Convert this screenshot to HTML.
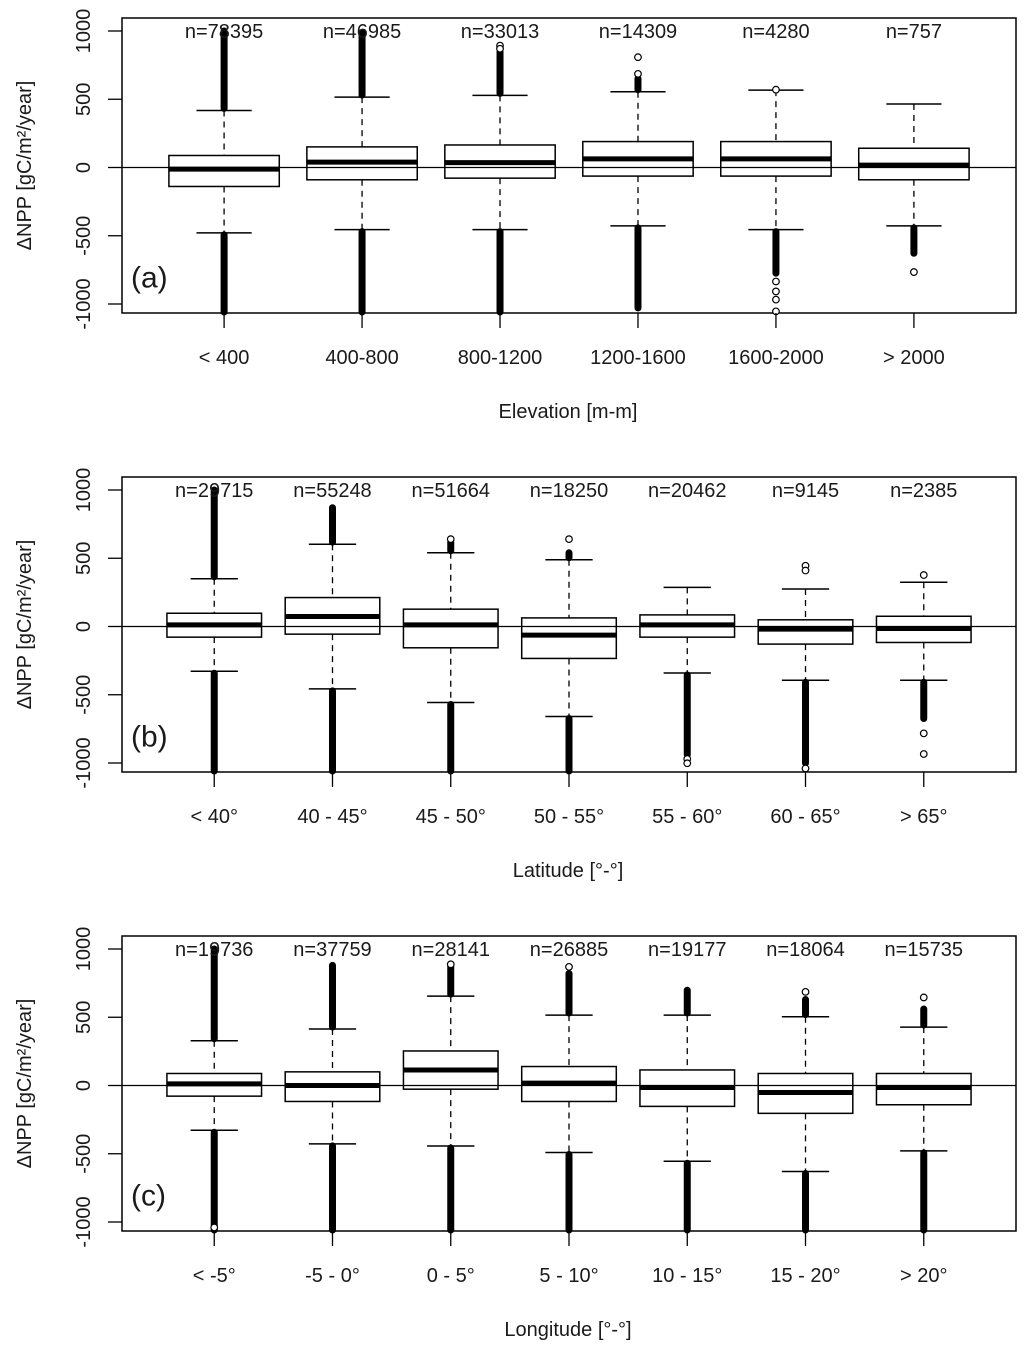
<!DOCTYPE html>
<html><head><meta charset="utf-8"><style>
html,body{margin:0;padding:0;background:#fff;}
svg text{font-family:"Liberation Sans",Arial,sans-serif;fill:#1a1a1a;}
</style></head><body>
<svg id="chart" width="1024" height="1351" viewBox="0 0 1024 1351" xmlns="http://www.w3.org/2000/svg"></svg>
<script>
// Panel (a) elevation
const catsA = ["< 400","400-800","800-1200","1200-1600","1600-2000","> 2000"];
const nA = ["n=78395","n=46985","n=33013","n=14309","n=4280","n=757"];
const hiWA = [418,516,528,555,567,465];
const q3A = [88,151,165,190,190,141];
const medA = [-12,39,36,63,63,17];
const q1A = [-139,-90,-78,-63,-63,-90];
const loWA = [-479,-455,-455,-428,-455,-428];
const outHiA = [1000,990,850,650,567,465];
const outLoA = [-1060,-1060,-1060,-1029,-774,-628];
const circA = [[],[],[893,870],[686,808],[570],[-766]];
const circLoA = [[],[],[],[],[-835,-908,-968,-1054],[]];
// Panel (b) latitude
const catsB = ["< 40°","40 - 45°","45 - 50°","50 - 55°","55 - 60°","60 - 65°","> 65°"];
const nB = ["n=29715","n=55248","n=51664","n=18250","n=20462","n=9145","n=2385"];
const hiWB = [350,603,540,489,287,275,324];
const q3B = [97,212,127,63,85,49,75];
const medB = [12,73,12,-63,12,-19,-15];
const q1B = [-78,-56,-156,-234,-78,-129,-117];
const loWB = [-328,-457,-557,-659,-341,-394,-394];
const outHiB = [1000,870,620,540,287,275,324];
const outLoB = [-1060,-1060,-1060,-1060,-940,-1000,-674];
const circB = [[],[],[640],[640],[],[445,410],[377]];
const circLoB = [[],[],[],[],[-970,-1002],[-1040],[-783,-934]];
// Panel (c) longitude
const catsC = ["< -5°","-5 - 0°","0 - 5°","5 - 10°","10 - 15°","15 - 20°","> 20°"];
const nC = ["n=19736","n=37759","n=28141","n=26885","n=19177","n=18064","n=15735"];
const hiWC = [328,414,655,516,516,504,428];
const q3C = [88,100,253,139,114,88,88];
const medC = [12,0,114,17,-15,-51,-15];
const q1C = [-78,-117,-27,-117,-153,-204,-141];
const loWC = [-328,-428,-443,-491,-555,-630,-479];
const outHiC = [1000,880,880,820,698,630,560];
const outLoC = [-1060,-1060,-1060,-1060,-1060,-1060,-1060];
const circC = [[],[],[888],[869],[],[686],[645]];
const circLoC = [[-1040],[],[],[],[],[],[]];
const yTicks = [-1000,-500,0,500,1000];

const svg = document.getElementById('chart');
const NS = 'http://www.w3.org/2000/svg';
function mk(tag, attrs, parent){
  const e = document.createElementNS(NS, tag);
  for (const k in attrs) e.setAttribute(k, attrs[k]);
  (parent||svg).appendChild(e); return e;
}
function panel(cfg){
  const g = mk('g', {});
  
  
  const L=122, R=1016, top=cfg.top, bot=cfg.top+295, zero=cfg.top+149.5, k=0.1365;
  const yS = v => zero - v*k;
  const n = cfg.cats.length;
  const u = (R-L)/(n*1.08);
  const xS = i => L + (0.04*n + i + 0.5)*u;
  const bw = u*0.8, cw = bw/2;
  const fr = mk('rect',{x:L,y:top,width:R-L,height:bot-top,fill:'none',stroke:'#000','stroke-width':1.5},g);
   
  const zl = mk('line',{x1:L,x2:R,y1:yS(0),y2:yS(0),stroke:'#000','stroke-width':1.3},g);
   
  yTicks.forEach(t=>{
    const y=yS(t);
    const tl = mk('line',{x1:108,x2:L,y1:y,y2:y,stroke:'#000','stroke-width':1.3},g);
     
    const tx = mk('text',{x:0,y:0,'font-size':20,'text-anchor':'middle',transform:`translate(90,${y}) rotate(-90)`},g);
    tx.textContent = t;
     
  });
  const yl = mk('text',{x:0,y:0,'font-size':20,'text-anchor':'middle',transform:`translate(31,${zero-2}) rotate(-90)`},g);
  yl.textContent = 'ΔNPP [gC/m²/year]';
   
  for(let i=0;i<n;i++){
    const x=xS(i);
    const bg = mk('g',{},g);
     
    mk('line',{x1:x,x2:x,y1:yS(cfg.hiW[i]),y2:yS(cfg.q3[i]),stroke:'#000','stroke-width':1.3,'stroke-dasharray':'6,5'},bg);
    mk('line',{x1:x,x2:x,y1:yS(cfg.q1[i]),y2:yS(cfg.loW[i]),stroke:'#000','stroke-width':1.3,'stroke-dasharray':'6,5'},bg);
    mk('line',{x1:x-cw/2,x2:x+cw/2,y1:yS(cfg.hiW[i]),y2:yS(cfg.hiW[i]),stroke:'#000','stroke-width':1.5},bg);
    mk('line',{x1:x-cw/2,x2:x+cw/2,y1:yS(cfg.loW[i]),y2:yS(cfg.loW[i]),stroke:'#000','stroke-width':1.5},bg);
    const clip = v => Math.max(top+1, Math.min(bot-1, v));
    if(cfg.outHi[i] > cfg.hiW[i]){
      const o=mk('line',{x1:x,x2:x,y1:yS(cfg.hiW[i])-2,y2:clip(yS(cfg.outHi[i])),stroke:'#000','stroke-width':7,'stroke-linecap':'round'},bg);
       
    }
    if(cfg.outLo[i] < cfg.loW[i]){
      const o=mk('line',{x1:x,x2:x,y1:yS(cfg.loW[i])+2,y2:clip(yS(cfg.outLo[i])),stroke:'#000','stroke-width':7,'stroke-linecap':'round'},bg);
       
    }
    cfg.circ[i].concat(cfg.circLo[i]).forEach(v=>{
      const c=mk('circle',{cx:x,cy:yS(v),r:3.3,fill:'#fff',stroke:'#000','stroke-width':1.2},bg);
       
    });
    const r=mk('rect',{x:x-bw/2,y:yS(cfg.q3[i]),width:bw,height:yS(cfg.q1[i])-yS(cfg.q3[i]),fill:'#fff',stroke:'#000','stroke-width':1.5},bg);
     
    const m=mk('line',{x1:x-bw/2,x2:x+bw/2,y1:yS(cfg.med[i]),y2:yS(cfg.med[i]),stroke:'#000','stroke-width':5},bg);
     
    mk('line',{x1:x-bw/2,x2:x+bw/2,y1:yS(0),y2:yS(0),stroke:'#000','stroke-width':1.3},bg);
    const xt=mk('line',{x1:x,x2:x,y1:bot,y2:bot+15,stroke:'#000','stroke-width':1.3},g);
     
    const xl=mk('text',{x:x,y:bot+51,'font-size':20,'text-anchor':'middle'},g);
    xl.textContent=cfg.cats[i];
     
    const nl=mk('text',{x:x,y:top+20,'font-size':20,'text-anchor':'middle'},g);
    nl.textContent=cfg.n[i];
     
  }
  const pl=mk('text',{x:131,y:zero+120,'font-size':30},g);
  pl.textContent='('+cfg.letter+')';
   
  const xt=mk('text',{x:568,y:bot+105,'font-size':20,'text-anchor':'middle'},g);
  xt.textContent=cfg.xtitle;
   
}
panel({letter:'a',top:18,cats:catsA,n:nA,hiW:hiWA,q3:q3A,med:medA,q1:q1A,loW:loWA,outHi:outHiA,outLo:outLoA,circ:circA,circLo:circLoA,xtitle:'Elevation [m-m]'});
panel({letter:'b',top:477,cats:catsB,n:nB,hiW:hiWB,q3:q3B,med:medB,q1:q1B,loW:loWB,outHi:outHiB,outLo:outLoB,circ:circB,circLo:circLoB,xtitle:'Latitude [°-°]'});
panel({letter:'c',top:936,cats:catsC,n:nC,hiW:hiWC,q3:q3C,med:medC,q1:q1C,loW:loWC,outHi:outHiC,outLo:outLoC,circ:circC,circLo:circLoC,xtitle:'Longitude [°-°]'});
</script>
</body></html>
